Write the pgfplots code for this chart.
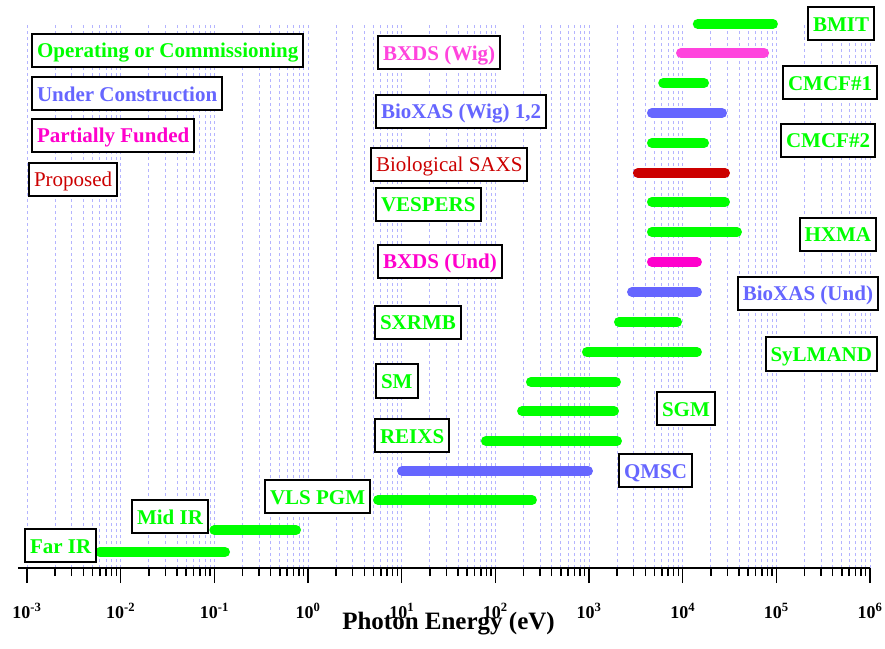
\documentclass[border=0pt]{standalone}
\usepackage{fontspec}
\setmainfont{Liberation Serif}
\usepackage{pgfplots}
\pgfplotsset{compat=1.18}
\definecolor{cgreen}{RGB}{0,255,0}
\definecolor{cblue}{RGB}{102,102,255}
\definecolor{cmag}{RGB}{255,0,204}
\definecolor{cpink}{RGB}{255,68,221}
\definecolor{cred}{RGB}{204,0,0}
\definecolor{cgrid}{RGB}{180,180,255}
\begin{document}
\begin{tikzpicture}
\begin{axis}[
  scale only axis, width=843pt, height=544pt,
  xmode=log, xmin=1e-3, xmax=1e6, ymin=0, ymax=544,
  axis x line*=bottom, axis y line=none,
  clip=false,
  x axis line style={line width=1.8pt, shorten <=-9pt},
  tick align=outside,
  major tick length=15pt, minor tick length=8pt,
  every tick/.style={black, line width=1.5pt},
  xmajorgrids, xminorgrids,
  major grid style={cgrid, line width=0.8pt, dash pattern=on 3pt off 3pt},
  minor grid style={cgrid, line width=0.8pt, dash pattern=on 3pt off 3pt},
  xtick={1e-3,1e-2,1e-1,1e0,1e1,1e2,1e3,1e4,1e5,1e6},
  xticklabels={{10\textsuperscript{-3}},{10\textsuperscript{-2}},{10\textsuperscript{-1}},{10\textsuperscript{0}},{10\textsuperscript{1}},{10\textsuperscript{2}},{10\textsuperscript{3}},{10\textsuperscript{4}},{10\textsuperscript{5}},{10\textsuperscript{6}}},
  xticklabel style={font=\fontsize{18}{18}\selectfont\bfseries, anchor=base, yshift=-35pt},
  xlabel={Photon Energy (eV)},
  x label style={font=\fontsize{25}{25}\selectfont\bfseries, at={(axis description cs:0.5,0)}, anchor=base, yshift=-61pt},
  bar/.style={line width=10pt, line cap=round, no markers},
]
\addplot[bar, cgreen] coordinates {(1.45e4,544) (9.2e4,544)};   % BMIT
\addplot[bar, cpink]  coordinates {(9.6e3,515) (7.4e4,515)};    % BXDS (Wig)
\addplot[bar, cgreen] coordinates {(6.2e3,485) (1.69e4,485)};   % CMCF#1
\addplot[bar, cblue]  coordinates {(4.7e3,455) (2.63e4,455)};   % BioXAS (Wig)
\addplot[bar, cgreen] coordinates {(4.7e3,425) (1.69e4,425)};   % CMCF#2
\addplot[bar, cred]   coordinates {(3.33e3,395) (2.83e4,395)};  % Biological SAXS
\addplot[bar, cgreen] coordinates {(4.7e3,366) (2.83e4,366)};   % VESPERS
\addplot[bar, cgreen] coordinates {(4.7e3,336) (3.8e4,336)};    % HXMA
\addplot[bar, cmag]   coordinates {(4.7e3,306) (1.42e4,306)};   % BXDS (Und)
\addplot[bar, cblue]  coordinates {(2.88e3,276) (1.42e4,276)};  % BioXAS (Und)
\addplot[bar, cgreen] coordinates {(2.09e3,246) (8.7e3,246)};   % SXRMB
\addplot[bar, cgreen] coordinates {(951,216) (1.42e4,216)};     % SyLMAND
\addplot[bar, cgreen] coordinates {(240,186) (1940,186)};       % SM
\addplot[bar, cgreen] coordinates {(193,157) (1850,157)};       % SGM
\addplot[bar, cgreen] coordinates {(79.4,127) (1990,127)};      % REIXS
\addplot[bar, cblue]  coordinates {(10.1,97) (975,97)};         % QMSC
\addplot[bar, cgreen] coordinates {(5.6,68) (246,68)};          % VLS PGM
\addplot[bar, cgreen] coordinates {(0.1,38) (0.745,38)};        % Mid IR
\addplot[bar, cgreen] coordinates {(0.006,16) (0.13,16)};       % Far IR
\end{axis}
\begin{scope}[shift={(current axis.south west)}, x=1pt, y=1pt,
  lab/.style={draw=black, line width=2pt, fill=white, inner xsep=5pt, inner ysep=4pt,
    text height=20pt, text depth=5pt, font=\fontsize{21}{21}\selectfont\bfseries},
  labn/.style={lab, font=\fontsize{21}{21}\selectfont}]
\node[lab, anchor=west, text=cgreen] at (4,517.5) {Operating or Commissioning};
\node[lab, anchor=west, text=cblue] at (4,474) {Under Construction};
\node[lab, anchor=west, text=cmag] at (4,432.5) {Partially Funded};
\node[labn, anchor=west, text=cred] at (1,388.5) {Proposed};
\node[lab, anchor=west, text=cpink] at (350,515) {BXDS (Wig)};
\node[lab, anchor=west, text=cblue] at (348,456.5) {BioXAS (Wig) 1,2};
\node[labn, anchor=west, text=cred] at (343,403.5) {Biological SAXS};
\node[lab, anchor=west, text=cgreen] at (348,363.5) {VESPERS};
\node[lab, anchor=west, text=cmag] at (350,306.5) {BXDS (Und)};
\node[lab, anchor=west, text=cgreen] at (347,245.5) {SXRMB};
\node[lab, anchor=west, text=cgreen] at (348,187) {SM};
\node[lab, anchor=west, text=cgreen] at (347,132.5) {REIXS};
\node[lab, anchor=west, text=cgreen] at (629,159.5) {SGM};
\node[lab, anchor=west, text=cblue] at (591,97.5) {QMSC};
\node[lab, anchor=west, text=cgreen] at (237,71.5) {VLS PGM};
\node[lab, anchor=west, text=cgreen] at (104,51.5) {Mid IR};
\node[lab, anchor=west, text=cgreen] at (-3,22.5) {Far IR};
\node[lab, anchor=east, text=cgreen] at (848,544) {BMIT};
\node[lab, anchor=east, text=cgreen] at (851,485) {CMCF\#1};
\node[lab, anchor=east, text=cgreen] at (849,427.5) {CMCF\#2};
\node[lab, anchor=east, text=cgreen] at (850,333.5) {HXMA};
\node[lab, anchor=east, text=cblue] at (852,274.5) {BioXAS (Und)};
\node[lab, anchor=east, text=cgreen] at (851,214) {SyLMAND};
\end{scope}
\pgfresetboundingbox
\path[use as bounding box] ([shift={(-27pt,-80pt)}]current axis.south west) rectangle ([shift={(15pt,24pt)}]current axis.north east);
\end{tikzpicture}
\end{document}
